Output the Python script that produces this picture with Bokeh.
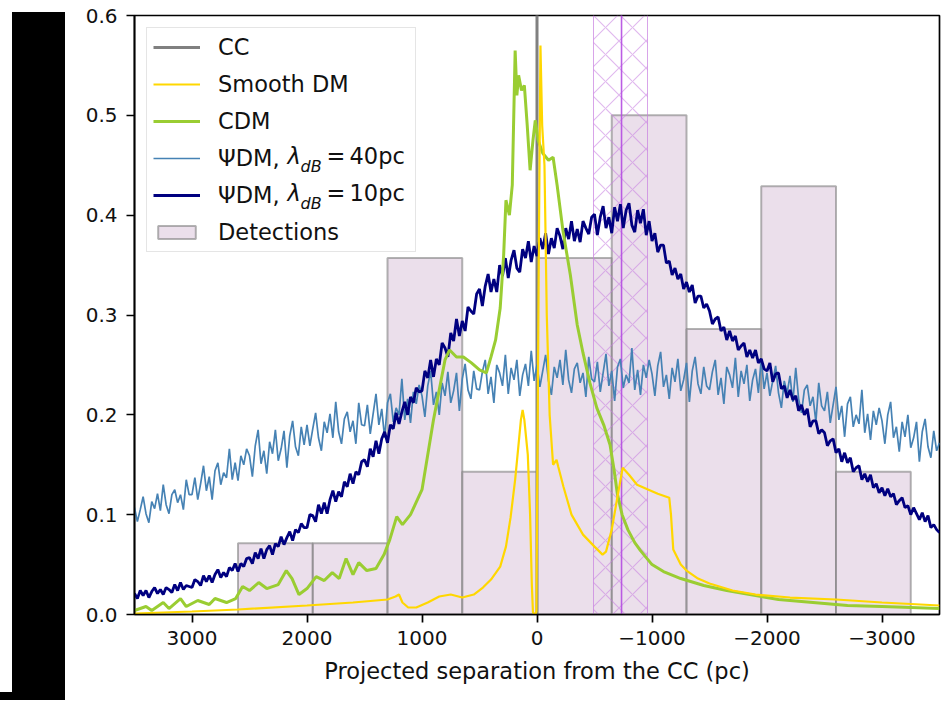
from bokeh.plotting import figure
from bokeh.models import (Range1d, FixedTicker, Legend, LegendItem, Label,
                          NumeralTickFormatter, Div)
from bokeh.layouts import row, column
from bokeh.embed import file_html
from bokeh.resources import INLINE

# ---------------- data ----------------
# sampling of the two ΨDM profiles (pc)
sep_psi = list(range(3500, -3501, -25))

psi40 = [
    0.107, 0.093, 0.105, 0.118, 0.101, 0.092, 0.113, 0.106, 0.121, 0.104, 0.130, 0.110, 0.101, 0.120, 0.125, 0.112, 0.120, 0.105, 0.135, 0.120,
    0.120, 0.137, 0.115, 0.131, 0.149, 0.124, 0.138, 0.115, 0.144, 0.152, 0.130, 0.142, 0.137, 0.166, 0.135, 0.152, 0.134, 0.159, 0.150, 0.166,
    0.159, 0.138, 0.169, 0.185, 0.151, 0.164, 0.141, 0.173, 0.161, 0.185, 0.154, 0.166, 0.184, 0.147, 0.179, 0.194, 0.168, 0.159, 0.188, 0.170,
    0.190, 0.169, 0.186, 0.202, 0.177, 0.164, 0.193, 0.182, 0.201, 0.177, 0.213, 0.183, 0.171, 0.196, 0.203, 0.183, 0.194, 0.171, 0.212, 0.190,
    0.189, 0.210, 0.181, 0.201, 0.221, 0.190, 0.206, 0.177, 0.212, 0.221, 0.193, 0.207, 0.200, 0.236, 0.195, 0.216, 0.192, 0.223, 0.211, 0.230,
    0.219, 0.198, 0.229, 0.244, 0.210, 0.223, 0.200, 0.232, 0.219, 0.243, 0.212, 0.224, 0.242, 0.204, 0.236, 0.251, 0.225, 0.216, 0.244, 0.226,
    0.225, 0.243, 0.255, 0.221, 0.238, 0.212, 0.250, 0.242, 0.229, 0.260, 0.221, 0.247, 0.235, 0.255, 0.219, 0.240, 0.251, 0.229, 0.264, 0.234,
    0.250, 0.228, 0.244, 0.260, 0.234, 0.220, 0.248, 0.237, 0.255, 0.230, 0.265, 0.235, 0.222, 0.246, 0.252, 0.232, 0.242, 0.218, 0.258, 0.236,
    0.233, 0.253, 0.223, 0.242, 0.261, 0.229, 0.244, 0.214, 0.248, 0.256, 0.227, 0.240, 0.232, 0.267, 0.225, 0.245, 0.220, 0.250, 0.237, 0.255,
    0.241, 0.219, 0.249, 0.263, 0.228, 0.240, 0.216, 0.247, 0.233, 0.256, 0.224, 0.235, 0.252, 0.213, 0.244, 0.258, 0.231, 0.221, 0.248, 0.229,
    0.225, 0.243, 0.255, 0.220, 0.237, 0.211, 0.248, 0.240, 0.227, 0.257, 0.218, 0.244, 0.231, 0.250, 0.214, 0.235, 0.246, 0.222, 0.256, 0.226,
    0.242, 0.219, 0.234, 0.249, 0.222, 0.207, 0.234, 0.222, 0.239, 0.213, 0.247, 0.216, 0.202, 0.225, 0.230, 0.209, 0.218, 0.193, 0.232, 0.209,
    0.204, 0.223, 0.192, 0.210, 0.228, 0.195, 0.209, 0.178, 0.211, 0.218, 0.188, 0.200, 0.191, 0.225, 0.182, 0.201, 0.175, 0.204, 0.190, 0.207,
    0.194, 0.171, 0.200, 0.213, 0.177, 0.188, 0.163, 0.193, 0.178, 0.200, 0.167, 0.177, 0.193, 0.153, 0.183, 0.196, 0.168, 0.157, 0.184, 0.164,
    0.172,
]

psi10 = [
    0.021, 0.016, 0.024, 0.019, 0.024, 0.017, 0.023, 0.027, 0.021, 0.025, 0.020, 0.027, 0.025, 0.022, 0.030, 0.024, 0.032, 0.025, 0.029, 0.028,
    0.027, 0.035, 0.033, 0.029, 0.039, 0.033, 0.039, 0.032, 0.040, 0.045, 0.037, 0.042, 0.038, 0.047, 0.044, 0.051, 0.043, 0.051, 0.048, 0.056,
    0.057, 0.051, 0.062, 0.056, 0.066, 0.056, 0.065, 0.069, 0.060, 0.071, 0.068, 0.078, 0.070, 0.077, 0.083, 0.074, 0.085, 0.082, 0.091, 0.087,
    0.087, 0.100, 0.099, 0.093, 0.110, 0.101, 0.112, 0.101, 0.115, 0.124, 0.113, 0.123, 0.118, 0.133, 0.128, 0.141, 0.131, 0.143, 0.140, 0.153,
    0.155, 0.148, 0.166, 0.158, 0.174, 0.161, 0.176, 0.183, 0.172, 0.190, 0.186, 0.202, 0.191, 0.203, 0.213, 0.200, 0.218, 0.212, 0.227, 0.223,
    0.224, 0.244, 0.237, 0.255, 0.238, 0.256, 0.250, 0.272, 0.267, 0.258, 0.282, 0.274, 0.296, 0.279, 0.294, 0.284, 0.308, 0.304, 0.301, 0.321,
    0.326, 0.309, 0.329, 0.341, 0.323, 0.336, 0.323, 0.350, 0.339, 0.357, 0.337, 0.355, 0.365, 0.347, 0.343, 0.366, 0.357, 0.374, 0.353, 0.369,
    0.359, 0.377, 0.366, 0.382, 0.361, 0.377, 0.367, 0.387, 0.379, 0.366, 0.387, 0.376, 0.394, 0.374, 0.386, 0.373, 0.394, 0.387, 0.381, 0.398,
    0.401, 0.380, 0.398, 0.409, 0.387, 0.398, 0.382, 0.408, 0.394, 0.411, 0.387, 0.405, 0.412, 0.390, 0.383, 0.405, 0.392, 0.406, 0.380, 0.394,
    0.374, 0.382, 0.363, 0.370, 0.370, 0.352, 0.354, 0.340, 0.347, 0.336, 0.341, 0.326, 0.333, 0.323, 0.330, 0.312, 0.319, 0.319, 0.307, 0.311,
    0.304, 0.291, 0.296, 0.298, 0.284, 0.288, 0.275, 0.284, 0.274, 0.279, 0.265, 0.269, 0.272, 0.258, 0.265, 0.257, 0.265, 0.252, 0.256, 0.246,
    0.244, 0.252, 0.233, 0.241, 0.242, 0.226, 0.229, 0.217, 0.225, 0.215, 0.219, 0.204, 0.210, 0.200, 0.206, 0.188, 0.194, 0.194, 0.181, 0.185,
    0.182, 0.169, 0.174, 0.176, 0.162, 0.166, 0.153, 0.162, 0.152, 0.157, 0.143, 0.147, 0.149, 0.135, 0.141, 0.133, 0.140, 0.127, 0.131, 0.122,
    0.127, 0.119, 0.126, 0.118, 0.121, 0.110, 0.114, 0.117, 0.107, 0.109, 0.100, 0.107, 0.101, 0.095, 0.102, 0.093, 0.099, 0.087, 0.090, 0.085,
    0.082,
]

cdm_x = [3500, 3400, 3350, 3250, 3200, 3100, 3050, 2950, 2850, 2800,
         2700, 2620, 2560, 2500, 2420, 2350, 2250, 2180, 2130, 2070,
         2000, 1920, 1850, 1780, 1720, 1660, 1600, 1550, 1480, 1400,
         1330, 1280, 1220, 1170, 1100, 1060, 1000, 950, 900, 850,
         800, 760, 700, 640, 570, 500, 440, 400, 360, 320,
         290, 270, 240, 215, 190, 175, 160, 135, 110, 85,
         60, 35, 15, -10, -50, -100, -140, -175, -225, -290,
         -350, -400, -460, -520, -580, -635, -670, -700, -740, -790,
         -850, -900, -1000, -1100, -1250, -1450, -1650, -1900, -2100, -2400,
         -2700, -3000, -3500]
cdm_y = [0.004, 0.008, 0.004, 0.012, 0.006, 0.016, 0.008, 0.014, 0.010, 0.016,
         0.012, 0.016, 0.028, 0.024, 0.032, 0.026, 0.030, 0.044, 0.036, 0.020,
         0.026, 0.038, 0.034, 0.042, 0.036, 0.056, 0.040, 0.052, 0.044, 0.046,
         0.060, 0.075, 0.098, 0.090, 0.100, 0.110, 0.125, 0.160, 0.195, 0.225,
         0.255, 0.265, 0.258, 0.258, 0.252, 0.245, 0.242, 0.258, 0.275, 0.307,
         0.360, 0.415, 0.400, 0.430, 0.565, 0.520, 0.540, 0.525, 0.530, 0.490,
         0.445, 0.475, 0.495, 0.475, 0.462, 0.455, 0.458, 0.430, 0.385, 0.340,
         0.290, 0.262, 0.232, 0.207, 0.190, 0.170, 0.145, 0.120, 0.100, 0.085,
         0.072, 0.064, 0.050, 0.043, 0.036, 0.029, 0.024, 0.019, 0.015, 0.012,
         0.009, 0.008, 0.006]

smooth_x = [3500, 3000, 2600, 2000, 1600, 1300, 1230, 1200, 1170, 1120,
            1050, 950, 850, 750, 650, 550, 470, 400, 320, 270,
            230, 190, 165, 140, 125, 110, 80, 60, 45, 35,
            15, 5, -15, -30, -45, -65, -85, -110, -140, -170,
            -185, -230, -300, -400, -500, -570, -600, -650, -700, -745,
            -800, -870, -950, -1050, -1150, -1165, -1185, -1250, -1300, -1400,
            -1500, -1700, -1900, -2200, -2600, -3000, -3500]
smooth_y = [0.001, 0.003, 0.005, 0.009, 0.012, 0.015, 0.018, 0.020, 0.012, 0.007,
            0.007, 0.012, 0.018, 0.020, 0.017, 0.020, 0.027, 0.035, 0.048, 0.068,
            0.097, 0.135, 0.165, 0.195, 0.205, 0.195, 0.160, 0.100, 0.030, 0.002,
            0.000, 0.003, 0.350, 0.570, 0.490, 0.450, 0.300, 0.200, 0.150, 0.155,
            0.148, 0.128, 0.100, 0.080, 0.068, 0.060, 0.063, 0.085, 0.118, 0.147,
            0.140, 0.130, 0.126, 0.121, 0.117, 0.100, 0.065, 0.050, 0.044, 0.036,
            0.031, 0.024, 0.020, 0.017, 0.015, 0.012, 0.009]

# detection histogram (bin edges in pc, fractions)
det_left = [2600, 1950, 1300, 650, 0, -650, -1300, -1950, -2600]
det_right = [1950, 1300, 650, 0, -650, -1300, -1950, -2600, -3250]
det_frac = [0.0714, 0.0714, 0.357, 0.143, 0.357, 0.5, 0.286, 0.429, 0.143]

cc_pos = 0          # central cluster
gc_center = -735    # hatched band centre and its extent
gc_lo = -490
gc_hi = -960

x_ticks = [3000, 2000, 1000, 0, -1000, -2000, -3000]
x_tick_labels = ["3000", "2000", "1000", "0", "\u22121000", "\u22122000", "\u22123000"]
y_ticks = [0.0, 0.1, 0.2, 0.3, 0.4, 0.5, 0.6]

# ---------------- figure ----------------
FONT = "DejaVu Sans"
TXT = "#111111"
p = figure(width=876, height=700, output_backend="svg", toolbar_location=None,
           x_range=Range1d(3500, -3500), y_range=Range1d(0, 0.6),
           min_border_left=69, min_border_right=2, min_border_top=15,
           min_border_bottom=86)
p.grid.visible = False
p.outline_line_color = "black"
p.outline_line_width = 1.7
p.background_fill_color = "white"
p.border_fill_color = "white"

for ax in (p.xaxis[0], p.yaxis[0]):
    ax.axis_line_color = "black"
    ax.axis_line_width = 1.7
    ax.major_tick_line_width = 1.7
    ax.major_tick_out = 8
    ax.major_tick_in = 0
    ax.minor_tick_line_color = None
    ax.major_label_text_font = FONT
    ax.major_label_text_font_size = "20px"
    ax.major_label_text_color = TXT

p.xaxis.ticker = FixedTicker(ticks=x_ticks)
p.xaxis.major_label_overrides = dict(zip(x_ticks, x_tick_labels))
p.xaxis.major_label_standoff = 8
p.xaxis.axis_label = "Projected separation from the CC (pc)"
p.xaxis.axis_label_text_font = FONT
p.xaxis.axis_label_text_font_size = "22.5px"
p.xaxis.axis_label_text_font_style = "normal"
p.xaxis.axis_label_text_color = TXT
p.xaxis.axis_label_standoff = 10

p.yaxis.ticker = FixedTicker(ticks=y_ticks)
p.yaxis.formatter = NumeralTickFormatter(format="0.0")
p.yaxis.major_label_standoff = 9

# histogram of detections
r_det = p.quad(left=det_left, right=det_right, bottom=0, top=det_frac,
               fill_color="thistle", fill_alpha=0.5,
               line_color="gray", line_alpha=0.6, line_width=2)

# hatched band + centre line
p.vstrip(x0=[gc_lo], x1=[gc_hi], fill_alpha=0, line_color="#c77ee0",
         line_alpha=0.7, line_width=1, hatch_pattern="diagonal_cross",
         hatch_color="#c77ee0", hatch_alpha=0.55, hatch_scale=27, hatch_weight=1.1)
p.ray(x=[gc_center], y=[0], length=0, angle=90, angle_units="deg",
      line_color="#b44be1", line_width=1.6, line_alpha=0.9)

# CC line
r_cc = p.ray(x=[cc_pos], y=[0], length=0, angle=90, angle_units="deg",
             line_color="gray", line_width=3)

r_p40 = p.line(sep_psi, psi40, line_color="steelblue", line_width=1.7)
r_p10 = p.line(sep_psi, psi10, line_color="navy", line_width=2.8)
r_cdm = p.line(cdm_x, cdm_y, line_color="yellowgreen", line_width=3)
r_sm = p.line(smooth_x, smooth_y, line_color="gold", line_width=2.2)

legend = Legend(items=[
    LegendItem(label="CC", renderers=[r_cc]),
    LegendItem(label="Smooth DM", renderers=[r_sm]),
    LegendItem(label="CDM", renderers=[r_cdm]),
    LegendItem(label="\u03a8DM,", renderers=[r_p40]),
    LegendItem(label="\u03a8DM,", renderers=[r_p10]),
    LegendItem(label="Detections", renderers=[r_det]),
], location="top_left", margin=12, padding=6, spacing=11,
    glyph_width=47, glyph_height=16, label_standoff=18, label_width=191,
    label_text_font=FONT, label_text_font_size="22.5px", label_text_color=TXT,
    border_line_color="#cccccc", border_line_width=1.2,
    background_fill_color="white", background_fill_alpha=0.0)
p.add_layout(legend)

# math parts of the ΨDM labels: λ_dB = ...
for ymid, num in ((459, "40pc"), (422, "10pc")):
    common = dict(x_units="screen", y_units="screen", text_font=FONT,
                  text_color=TXT, text_alpha=1.0)
    p.add_layout(Label(x=153, y=ymid, text="\u03bb", text_font_style="italic",
                       text_font_size="22.5px", text_baseline="middle", **common))
    p.add_layout(Label(x=166, y=ymid - 11, text="dB", text_font_style="italic",
                       text_font_size="16px", text_baseline="alphabetic", **common))
    p.add_layout(Label(x=192, y=ymid, text="=", text_font_size="22.5px",
                       text_baseline="middle", **common))
    p.add_layout(Label(x=215, y=ymid, text=num, text_font_size="22.5px",
                       text_baseline="middle", **common))

# black frame pieces at the left edge of the reference picture
bar = Div(text="", width=53, height=680, margin=(12, 0, 0, 12),
          styles={"background-color": "black"})
foot = Div(text="", width=65, height=8, margin=(0, 0, 0, 0),
           styles={"background-color": "black"})

open("out.html", "w").write(file_html(row(column(bar, foot), p), INLINE))
